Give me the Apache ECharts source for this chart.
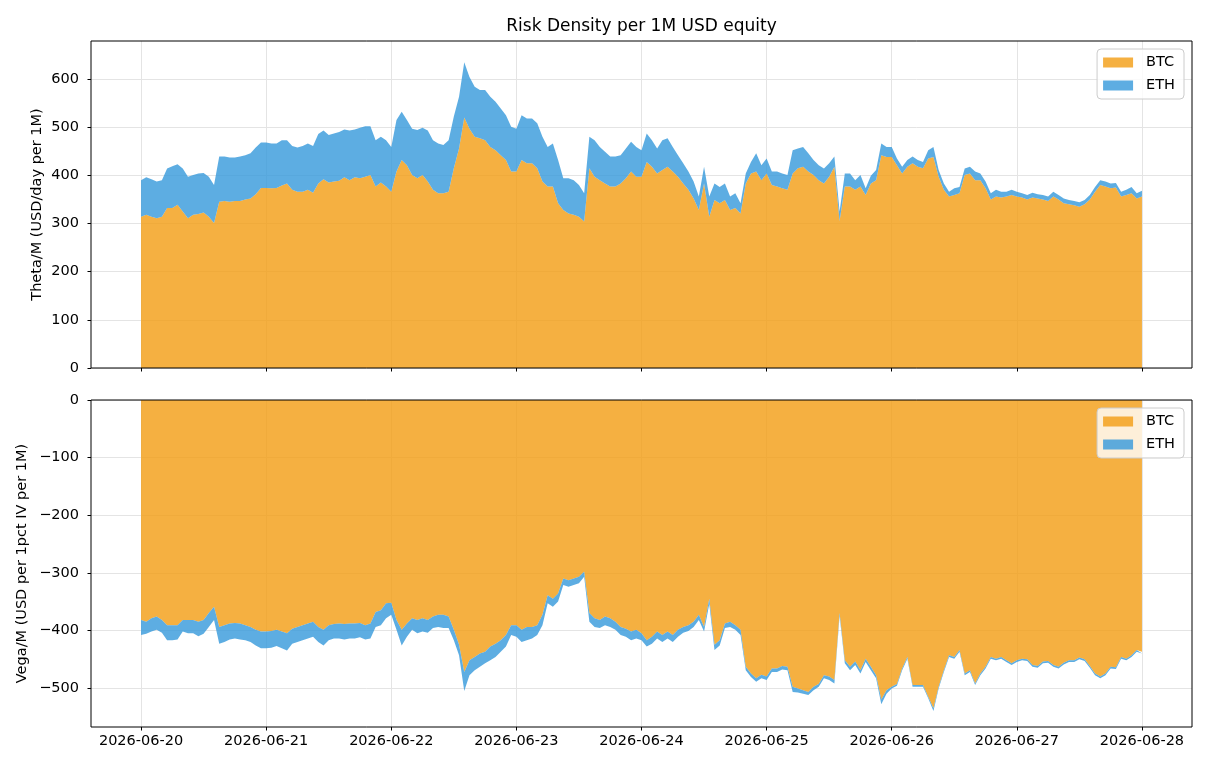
<!DOCTYPE html>
<html>
<head>
<meta charset="utf-8">
<script src="https://cdn.jsdelivr.net/npm/echarts@6/dist/echarts.min.js"></script>
<style>
html, body { margin: 0; padding: 0; background: #fff; }
#chart { width: 1210px; height: 770px; }
</style>
</head>
<body>
<div id="chart"></div>
<script>
// hours since 2026-06-20 00:00, one value per hour
const dayTicks = [0, 24, 48, 72, 96, 120, 144, 168, 192];
const dayLabels = ['2026-06-20', '2026-06-21', '2026-06-22', '2026-06-23', '2026-06-24',
  '2026-06-25', '2026-06-26', '2026-06-27', '2026-06-28'];
const thetaTicks = [0, 100, 200, 300, 400, 500, 600];
const vegaTicks = [-500, -400, -300, -200, -100, 0];

const thetaBTC = [
  314,318,314,311,314,332,332,339,325,311,318,320,323,314,301,345,347,345,347,347,350,352,361,374,
  374,373,374,379,383,370,366,366,370,364,383,392,385,387,389,396,390,396,394,397,401,377,385,377,
  366,408,432,421,401,394,401,387,370,363,363,366,415,456,520,497,480,477,473,459,452,442,432,408,
  408,432,425,425,415,387,377,377,342,328,321,318,314,304,415,397,390,383,377,377,383,394,408,397,
  397,428,418,404,411,418,408,397,383,370,352,328,383,314,349,342,349,328,332,321,383,404,408,390,
  404,380,377,373,370,404,415,418,408,401,390,383,397,418,305,377,377,370,377,359,383,390,442,438,
  438,421,404,418,425,418,415,435,438,397,370,356,359,363,401,404,390,390,373,350,356,354,356,359,
  356,354,350,354,352,350,347,356,350,342,340,338,335,340,350,366,380,377,373,375,356,359,363,352,
  356
];
const thetaETH = [
  76,78,78,76,76,82,87,84,89,86,83,84,82,83,79,94,92,92,90,92,92,94,97,94,
  94,93,92,94,90,91,92,95,96,97,103,101,99,100,101,99,103,99,105,105,101,96,95,96,
  93,107,100,94,96,100,98,106,103,103,100,107,107,107,115,107,104,100,104,104,101,97,93,93,
  89,93,93,93,93,93,82,89,90,66,73,72,66,59,65,76,69,66,62,62,59,62,62,62,
  55,59,55,52,62,59,51,45,42,38,35,28,35,42,34,34,34,28,31,21,21,24,38,31,
  31,28,31,31,31,48,41,41,38,31,31,31,28,21,20,27,27,20,24,14,16,21,24,21,
  21,14,14,14,14,14,13,17,21,14,13,10,14,13,13,14,18,14,14,13,14,12,10,11,
  10,9,9,10,9,9,9,10,9,10,9,9,9,9,9,10,10,10,10,9,10,11,13,11,
  12
];
const vegaBTC = [
  -382,-385,-379,-376,-382,-391,-391,-391,-382,-382,-382,-385,-382,-370,-359,-394,-391,-388,-387,-388,-391,-394,-399,-402,
  -402,-401,-399,-402,-405,-397,-394,-391,-388,-385,-394,-399,-391,-389,-388,-389,-388,-388,-387,-391,-388,-368,-365,-353,
  -352,-382,-399,-388,-379,-382,-379,-382,-376,-373,-373,-376,-399,-425,-472,-452,-446,-440,-437,-428,-423,-417,-408,-391,
  -391,-399,-394,-394,-391,-373,-339,-345,-336,-310,-313,-310,-307,-298,-370,-379,-382,-376,-379,-385,-394,-397,-402,-399,
  -405,-417,-411,-402,-408,-402,-408,-399,-394,-391,-385,-373,-394,-345,-425,-417,-388,-385,-391,-399,-463,-475,-483,-477,
  -480,-466,-466,-462,-463,-498,-501,-504,-507,-498,-493,-478,-480,-486,-370,-452,-463,-454,-469,-449,-463,-478,-520,-504,
  -498,-493,-466,-446,-495,-495,-495,-515,-535,-498,-469,-443,-446,-434,-475,-469,-492,-475,-463,-446,-449,-446,-452,-457,
  -452,-449,-450,-460,-462,-454,-453,-460,-463,-456,-452,-452,-447,-450,-462,-475,-480,-475,-463,-464,-446,-449,-443,-434,
  -437
];
const vegaETH = [
  -26,-21,-23,-23,-22,-26,-26,-25,-20,-23,-23,-25,-24,-24,-23,-29,-29,-28,-27,-28,-26,-26,-27,-29,
  -29,-29,-28,-29,-30,-26,-26,-26,-26,-26,-26,-27,-26,-25,-26,-27,-26,-26,-25,-25,-26,-26,-26,-26,
  -21,-17,-27,-23,-20,-23,-23,-22,-20,-21,-23,-20,-18,-18,-33,-26,-23,-23,-20,-24,-23,-20,-20,-17,
  -20,-21,-23,-20,-17,-18,-14,-14,-14,-11,-11,-11,-11,-9,-15,-15,-14,-15,-15,-14,-14,-14,-15,-15,
  -12,-11,-12,-12,-12,-12,-12,-12,-10,-10,-9,-9,-8,-9,-9,-9,-8,-9,-8,-9,-6,-6,-6,-6,
  -6,-6,-6,-6,-6,-9,-7,-6,-5,-6,-5,-5,-6,-6,-5,-5,-6,-6,-6,-6,-6,-5,-8,-6,
  -3,-3,-3,-3,-3,-3,-3,-3,-5,-3,-3,-3,-3,-3,-3,-3,-3,-3,-3,-3,-3,-3,-3,-3,
  -3,-3,-3,-3,-3,-3,-3,-3,-3,-3,-3,-3,-3,-3,-3,-3,-3,-3,-3,-3,-3,-3,-3,-3,
  -3
];

const FONT = 'DejaVu Sans';
const ORANGE = 'rgba(243,156,18,0.8)';
const BLUE = 'rgba(52,152,219,0.8)';
const GRIDLINE = '#e4e4e4';

// value first, hour second: the stack then runs on the y dimension
const pairs = arr => arr.map((v, i) => [v, i]);
const minus = v => (v < 0 ? '\u2212' + (-v) : String(v));

function xAxisFor(gridIndex, showLabels) {
  return {
    type: 'value', gridIndex: gridIndex, min: -9.6, max: 201.6,
    axisLine: { show: false, onZero: false },
    axisTick: { show: true, length: 3.5, customValues: dayTicks, lineStyle: { color: '#000' } },
    axisLabel: {
      show: showLabels, customValues: dayTicks, margin: 7,
      fontFamily: FONT, fontSize: 14.5, color: '#000',
      formatter: v => dayLabels[dayTicks.indexOf(v)]
    },
    splitLine: { show: true, lineStyle: { color: GRIDLINE, width: 1 } }
  };
}

function yAxisFor(gridIndex, min, max, ticks) {
  return {
    type: 'value', gridIndex: gridIndex, min: min, max: max,
    axisLine: { show: false, onZero: false },
    axisTick: { show: true, length: 3.5, customValues: ticks, lineStyle: { color: '#000' } },
    axisLabel: { customValues: ticks, margin: 12, fontFamily: FONT, fontSize: 14.5, color: '#000', formatter: minus },
    splitLine: { show: true, lineStyle: { color: GRIDLINE, width: 1 } }
  };
}

function area(name, data, color, axisIndex, stack) {
  return {
    name: name, type: 'line', xAxisIndex: axisIndex, yAxisIndex: axisIndex, stack: stack,
    data: pairs(data), encode: { x: 1, y: 0 },
    showSymbol: false, symbol: 'none',
    lineStyle: { width: 0 }, itemStyle: { color: color },
    areaStyle: { color: color, opacity: 1 },
    emphasis: { disabled: true }
  };
}

function legendAt(top) {
  return {
    data: ['BTC', 'ETH'], orient: 'vertical', right: 26, top: top,
    icon: 'rect', itemWidth: 30, itemHeight: 10, itemGap: 8,
    padding: [6, 9, 6, 6],
    backgroundColor: 'rgba(255,255,255,0.8)', borderColor: '#cccccc', borderWidth: 1, borderRadius: 4,
    textStyle: { fontFamily: FONT, fontSize: 14.5, color: '#000', padding: [0, 0, 0, 8] },
    selectedMode: false
  };
}

const chart = echarts.init(document.getElementById('chart'));
chart.setOption({
  animation: false,
  backgroundColor: '#fff',
  grid: [
    { left: 91, top: 41, width: 1101, height: 327, show: true, borderColor: '#000', borderWidth: 1, backgroundColor: 'transparent', z: 10 },
    { left: 91, top: 400, width: 1101, height: 327, show: true, borderColor: '#000', borderWidth: 1, backgroundColor: 'transparent', z: 10 }
  ],
  xAxis: [xAxisFor(0, false), xAxisFor(1, true)],
  yAxis: [yAxisFor(0, 0, 679, thetaTicks), yAxisFor(1, -567.7, 0, vegaTicks)],
  legend: [legendAt(49), legendAt(408)],
  series: [
    area('BTC', thetaBTC, ORANGE, 0, 'theta'),
    area('ETH', thetaETH, BLUE, 0, 'theta'),
    area('BTC', vegaBTC, ORANGE, 1, 'vega'),
    area('ETH', vegaETH, BLUE, 1, 'vega')
  ],
  graphic: [
    { type: 'text', x: 641.5, y: 27, style: { text: 'Risk Density per 1M USD equity', font: '17px "DejaVu Sans"', fill: '#000', textAlign: 'center', textVerticalAlign: 'middle' } },
    { type: 'text', x: 37, y: 204.5, rotation: Math.PI / 2, style: { text: 'Theta/M (USD/day per 1M)', font: '14.5px "DejaVu Sans"', fill: '#000', textAlign: 'center', textVerticalAlign: 'middle' } },
    { type: 'text', x: 22, y: 563.5, rotation: Math.PI / 2, style: { text: 'Vega/M (USD per 1pct IV per 1M)', font: '14.5px "DejaVu Sans"', fill: '#000', textAlign: 'center', textVerticalAlign: 'middle' } }
  ]
});
</script>
</body>
</html>
